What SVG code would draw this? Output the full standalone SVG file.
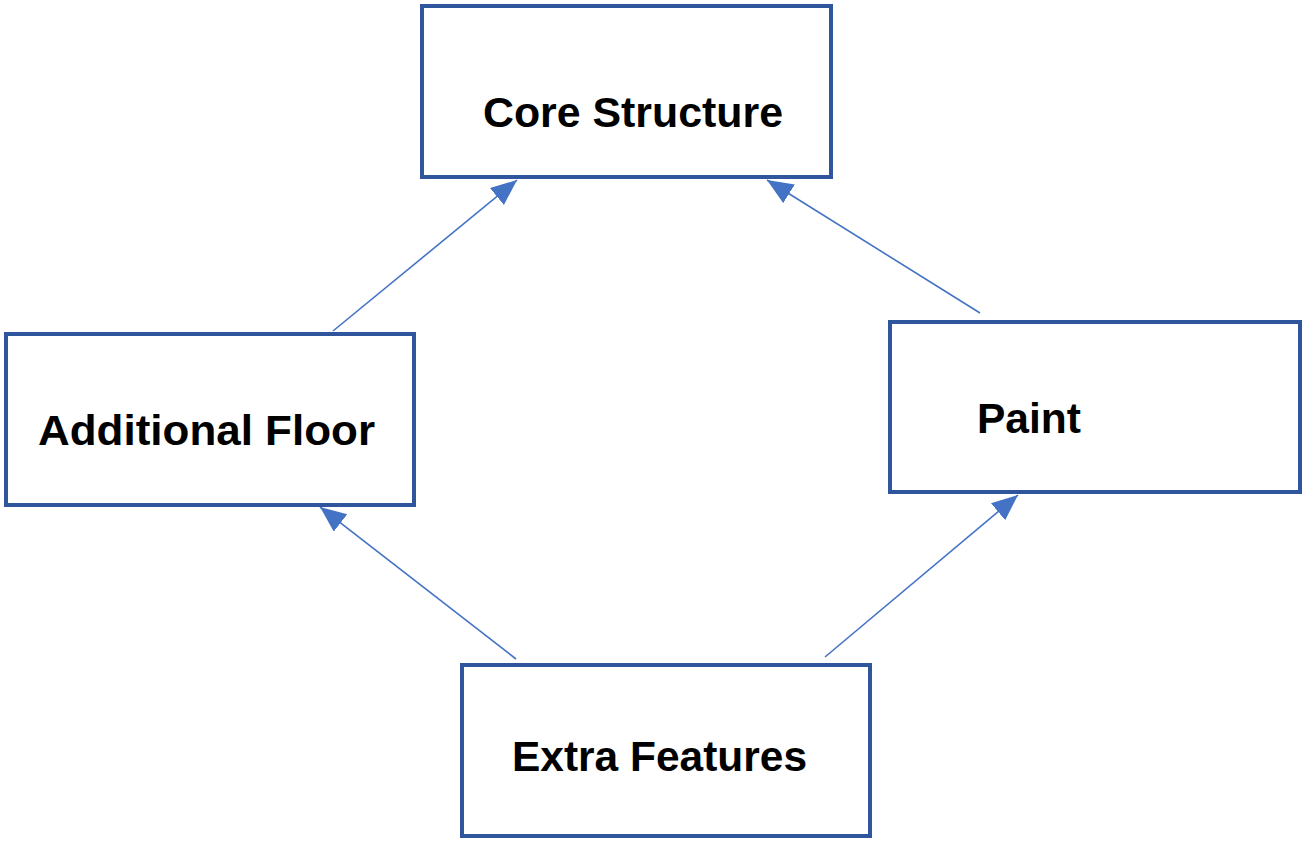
<svg xmlns="http://www.w3.org/2000/svg" width="1305" height="843" viewBox="0 0 1305 843">
<style>
.box{fill:#fff;stroke:#2F559C;stroke-width:4}
.lbl{font-family:"Liberation Sans",Arial,sans-serif;font-weight:bold;font-size:42px;fill:#000}
.con{stroke:#4472C4;stroke-width:1.6;fill:none;marker-end:url(#ah)}
</style>
<defs>
<marker id="ah" markerUnits="userSpaceOnUse" markerWidth="28" markerHeight="24" refX="26" refY="11" orient="auto">
<path d="M0,0 L26,11 L0,22 z" fill="#4472C4"/>
</marker>
</defs>
<rect width="1305" height="843" fill="#fff"/>
<g id="connectors">
<line class="con" x1="333" y1="331" x2="517" y2="180"/>
<line class="con" x1="980" y1="313" x2="767" y2="180"/>
<line class="con" x1="516" y1="659" x2="320" y2="507"/>
<line class="con" x1="825" y1="657" x2="1018" y2="495"/>
</g>
<g id="core">
<rect class="box" x="422" y="6" width="409" height="171"/>
<text class="lbl" x="483" y="127" textLength="300" lengthAdjust="spacingAndGlyphs">Core Structure</text>
</g>
<g id="additional">
<rect class="box" x="6" y="334" width="408" height="171"/>
<text class="lbl" x="38" y="445" textLength="337" lengthAdjust="spacingAndGlyphs">Additional Floor</text>
</g>
<g id="paint">
<rect class="box" x="890" y="322" width="410" height="170"/>
<text class="lbl" x="977" y="433" textLength="104" lengthAdjust="spacingAndGlyphs">Paint</text>
</g>
<g id="extra">
<rect class="box" x="462" y="665" width="408" height="171"/>
<text class="lbl" x="512" y="771" textLength="295" lengthAdjust="spacingAndGlyphs">Extra Features</text>
</g>
</svg>
